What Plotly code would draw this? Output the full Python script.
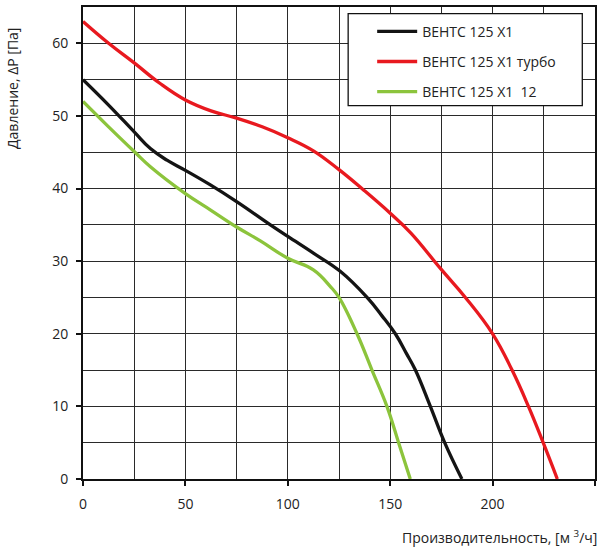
import plotly.graph_objects as go

# Напорные характеристики
flow_std = [0, 12.5, 25, 32.9, 41, 50, 62.2, 75, 91.5, 100, 112.5, 125.6, 138.7, 145.9, 152.5, 157.9, 162.3, 169.6, 176.6, 185.0]
press_std = [55, 51.5, 47.8, 45.5, 43.9, 42.5, 40.5, 38.2, 35, 33.4, 31.1, 28.6, 25, 22.5, 20, 17.3, 15, 10, 5, 0]

flow_turbo = [0, 12.5, 25, 37.5, 50, 62.5, 75, 87.5, 100, 112.5, 125, 137, 150, 160, 174.5, 186.7, 200, 209.5, 217.5, 224.7, 231.6]
press_turbo = [63, 60, 57.3, 54.5, 52.2, 50.7, 49.7, 48.5, 47.0, 45.2, 42.6, 39.8, 36.6, 33.9, 29, 25, 20, 15, 10, 5, 0]

flow_12 = [0, 12.5, 25, 32.9, 50, 62.5, 75, 86.6, 100, 112.5, 120.8, 125, 133.8, 141.1, 148.4, 154.1, 159.8]
press_12 = [52, 48.5, 45.1, 43, 39.3, 37, 34.7, 32.8, 30.4, 28.8, 26.5, 25, 20, 15, 10, 5, 0]

names = ["ВЕНТС 125 Х1", "ВЕНТС 125 Х1 турбо", "ВЕНТС 125 Х1  12"]
colors = ["#141414", "#e8191f", "#8cc43c"]

FONT = "Open Sans"

fig = go.Figure()
for i, (x, y) in enumerate([(flow_std, press_std), (flow_turbo, press_turbo), (flow_12, press_12)]):
    fig.add_trace(go.Scatter(
        x=x, y=y, name=names[i], mode="lines",
        line=dict(color=colors[i], width=3.3, shape="spline", smoothing=1.2),
        legendgroup=str(i),
    ))

grid = dict(showgrid=True, gridcolor="#2a2a2a", gridwidth=1, zeroline=False,
            showline=True, linecolor="#111", linewidth=2, mirror=True,
            ticks="outside", ticklen=5, tickcolor="#111", tickwidth=1.5,
            automargin=False,
            tickfont=dict(family=FONT, size=14, color="#222"))

fig.update_xaxes(range=[0, 250], tick0=0, dtick=50,
                 minor=dict(dtick=25, showgrid=True, gridcolor="#2a2a2a", gridwidth=1),
                 ticklabelstandoff=6, **grid)
fig.update_yaxes(range=[0, 65], tick0=0, dtick=10,
                 minor=dict(dtick=5, showgrid=True, gridcolor="#2a2a2a", gridwidth=1),
                 ticklabelstandoff=5, **grid)

# рамка легенды (в пикселях страницы: 348..582 по x, 14..106 по y)
fig.add_shape(type="rect", xref="paper", yref="paper",
              x0=(348 - 83) / 511.7, x1=(582 - 83) / 511.7,
              y0=(479.3 - 106) / 472, y1=(479.3 - 14) / 472,
              fillcolor="white", line=dict(color="#111", width=1.3), layer="above")

fig.update_layout(
    width=600, height=553,
    margin=dict(l=83, r=5, t=7, b=74, autoexpand=False),
    plot_bgcolor="white", paper_bgcolor="white",
    showlegend=True,
    legend=dict(x=(372 - 83) / 511.7, y=(479.3 - 16) / 472, xanchor="left", yanchor="top",
                bgcolor="rgba(0,0,0,0)", borderwidth=0,
                font=dict(family=FONT, size=14, color="#222"),
                traceorder="grouped", tracegroupgap=9,
                itemwidth=40),
    annotations=[
        dict(text="Производительность, [м <sup>3</sup>/ч]", xref="paper", yref="paper",
             x=1.0, y=0, xanchor="right", yanchor="top", yshift=-46, xshift=4,
             showarrow=False, font=dict(family=FONT, size=14, color="#222")),
        dict(text="Давление, ΔP [Па]", xref="paper", yref="paper",
             x=0, y=1.0, xanchor="left", yanchor="top", xshift=-82, yshift=-19,
             textangle=-90, showarrow=False, font=dict(family=FONT, size=14, color="#222")),
    ],
)

fig.write_html("out.html", config={"displayModeBar": False},
               post_script="document.body.style.margin='0';")
